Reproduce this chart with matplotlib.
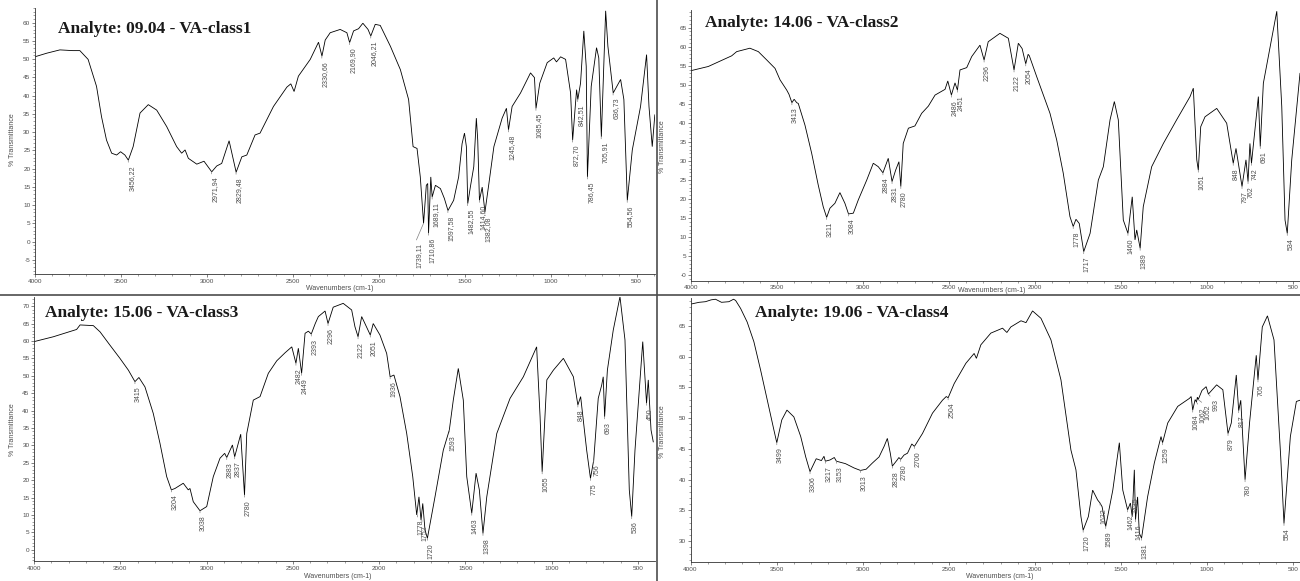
import numpy as np
import matplotlib
matplotlib.use("Agg")
import matplotlib.pyplot as plt
from matplotlib.lines import Line2D
from matplotlib.ticker import MultipleLocator, FuncFormatter

# ---------------- data ----------------
titles = ["Analyte: 09.04 - VA-class1", "Analyte: 14.06 - VA-class2",
          "Analyte: 15.06 - VA-class3", "Analyte: 19.06 - VA-class4"]

wn1 = [4000, 3930, 3854, 3780, 3738, 3690, 3641, 3612, 3583, 3553, 3524, 3501, 3476, 3456, 3428,
       3388, 3340, 3291, 3233, 3175, 3146, 3126, 3107, 3058, 3016, 2971, 2942, 2913, 2870, 2849,
       2829, 2796, 2767, 2719, 2690, 2612, 2534, 2511, 2492, 2467, 2398, 2350, 2330, 2311, 2282,
       2224, 2185, 2169, 2146, 2117, 2092, 2062, 2046, 2020, 1991, 1932, 1874, 1826, 1800, 1777,
       1758, 1739, 1723, 1715, 1710, 1697, 1689, 1670, 1641, 1618, 1597, 1564, 1535, 1515, 1501,
       1490, 1482, 1467, 1447, 1432, 1424, 1414, 1398, 1382, 1359, 1330, 1282, 1257, 1245, 1224,
       1175, 1117, 1094, 1085, 1063, 1020, 982, 966, 942, 913, 884, 872, 849, 842, 826,
       807, 793, 786, 764, 733, 720, 705, 680, 667, 636, 593, 574, 554, 525, 477,
       442, 428, 409, 394]
t1 = [50.6, 51.6, 52.5, 52.3, 52.3, 49.9, 42.5, 34.2, 27.8, 24.2, 23.7, 24.6, 23.7, 22.3, 26,
      35.2, 37.5, 36, 31.5, 26, 24.2, 25.1, 22.8, 21.2, 22, 19.1, 20.7, 21.4, 27.6, 23.2,
      19, 23.2, 23.7, 29.2, 29.7, 37, 42.3, 43.2, 41.1, 45.3, 49.9, 54.6, 50.8, 55.2, 57.2,
      58.1, 57.2, 54.5, 57.7, 58.3, 59.8, 58.1, 56.3, 59.5, 59.2, 53.5, 47.1, 38.9, 26, 25.5,
      17.7, 5, 15.4, 15.9, 2.3, 17.7, 12.2, 15.4, 14.5, 11.8, 8.5, 11.3, 17.7, 26.8, 29.7,
      26, 10.4, 14.9, 20.5, 33.8, 27.8, 11.3, 14.9, 8.1, 15.9, 26, 33.8, 36.5, 30.6, 37,
      40.7, 46.2, 44.9, 36.5, 43.4, 49, 50.3, 49.2, 50.6, 49.9, 40.7, 27.8, 41.6, 38.9, 43.4,
      57.7, 48, 17.7, 42.5, 53.1, 50.3, 28.7, 63.2, 53.5, 40.7, 44.4, 38.9, 11.3, 25.1, 37,
      51.2, 37, 26, 34.7]
peaks1 = ["3456,22", "2971,94", "2829,48", "2330,66", "2169,90", "2046,21", "1739,11",
          "1710,86", "1689,11", "1597,58", "1482,55", "1414,60", "1382,08", "1245,48",
          "1085,45", "872,70", "842,51", "786,45", "705,91", "636,73", "554,56"]

wn2 = [4000, 3899, 3763, 3734, 3657, 3608, 3559, 3511, 3482, 3443, 3430, 3413, 3400, 3385, 3376,
       3337, 3298, 3260, 3231, 3211, 3192, 3163, 3134, 3105, 3084, 3056, 3027, 2978, 2940, 2911,
       2884, 2853, 2831, 2810, 2791, 2780, 2766, 2736, 2698, 2659, 2620, 2581, 2523, 2507, 2486,
       2465, 2451, 2436, 2397, 2368, 2320, 2296, 2272, 2204, 2155, 2122, 2097, 2075, 2054, 2040,
       2033, 1990, 1913, 1874, 1836, 1797, 1778, 1762, 1743, 1717, 1680, 1632, 1603, 1564, 1539,
       1516, 1487, 1460, 1435, 1419, 1409, 1389, 1371, 1322, 1254, 1177, 1099, 1080, 1060, 1051,
       1037, 1012, 944, 886, 848, 832, 797, 774, 762, 751, 742, 702, 691, 673, 595,
       566, 547, 534, 508, 460]
t2 = [53.7, 54.8, 57.6, 58.7, 59.6, 58.7, 56.5, 54.3, 51.3, 48.6, 47.5, 45.3, 46.2, 45.3, 45.1,
      39.4, 32, 23.7, 18, 15.2, 17.6, 18.9, 21.7, 18.9, 16.1, 16.3, 19.8, 25, 29.4, 28.5,
      26.9, 30.7, 24.6, 27.6, 29.8, 23.3, 34.6, 38.6, 39.2, 42.5, 44.4, 47.3, 48.8, 51, 47.3,
      50.5, 48.6, 53.9, 54.5, 57.4, 60.4, 56.5, 61.3, 63.5, 62.2, 53.9, 60.9, 59.5, 55.5, 58,
      57.6, 52.1, 42.5, 35.5, 26.8, 15.4, 12.8, 14.7, 13.6, 6.2, 11, 25, 28.5, 40.8, 45.6,
      40.8, 14.5, 11, 20.6, 9.3, 11.9, 7.1, 18, 28.5, 34.6, 40.8, 46.9, 49.1, 30.3, 27.6,
      39, 41.6, 43.8, 39.9, 29.4, 33.3, 23.3, 30.3, 24.6, 34.6, 29.4, 46.9, 33.8, 50.4, 69.3,
      44.3, 14.5, 11, 30.3, 53]
peaks2 = ["3413", "3211", "3084", "2884", "2831", "2780", "2486", "2451", "2296", "2122",
          "2054", "1778", "1717", "1460", "1389", "1051", "848", "797", "762", "742", "691", "534"]

wn3 = [4000, 3888, 3753, 3733, 3656, 3617, 3560, 3502, 3453, 3415, 3392, 3357, 3309, 3270, 3231,
       3204, 3183, 3135, 3106, 3096, 3077, 3038, 2999, 2961, 2922, 2895, 2883, 2850, 2837, 2802,
       2780, 2767, 2729, 2690, 2642, 2593, 2545, 2506, 2482, 2468, 2449, 2429, 2410, 2393, 2370,
       2352, 2313, 2296, 2266, 2208, 2159, 2140, 2122, 2101, 2082, 2051, 2034, 1995, 1956, 1936,
       1914, 1879, 1840, 1805, 1782, 1769, 1757, 1747, 1734, 1720, 1676, 1628, 1593, 1570, 1541,
       1512, 1492, 1463, 1438, 1419, 1398, 1376, 1318, 1241, 1164, 1087, 1067, 1055, 1028, 990,
       932, 874, 848, 832, 797, 775, 756, 730, 710, 701, 693, 677, 643, 604, 575,
       550, 536, 517, 472, 450, 440, 424, 411]
t3 = [59.8, 61.2, 63.3, 64.6, 64.4, 62.6, 58.8, 55, 51.6, 48.3, 49.5, 46.8, 39.2, 30.6, 21,
      17.2, 17.6, 19.1, 17.2, 17.6, 13.8, 11.2, 12.4, 21, 26.3, 27.7, 26.5, 30.1, 26.7, 33.2,
      15.7, 33.4, 43, 44, 50.7, 54.3, 56.6, 58.3, 53.6, 57.9, 50.7, 62.2, 62.8, 62.0, 65,
      67, 68.6, 65, 69.7, 70.8, 68.9, 64.1, 61.2, 67, 65, 61.7, 65, 61.7, 56.4, 49.7,
      50.2, 44, 33.4, 21, 10, 15.2, 8.5, 13.3, 5.7, 3.3, 15.2, 28.6, 34.4, 43, 52.1,
      43, 21, 10.5, 22, 17.2, 4.7, 15.2, 33.4, 43.5, 49.7, 58.3, 38.2, 22.4, 48.8, 51.6,
      55, 49.7, 41.6, 44, 28.6, 20.5, 25.8, 43.5, 47.3, 49.7, 38.2, 51.6, 63.1, 72.7, 60.3,
      17.2, 9.5, 28.6, 59.8, 42.1, 48.8, 34.4, 31]
peaks3 = ["3415", "3204", "3038", "2883", "2837", "2780", "2482", "2449", "2393", "2296",
          "2122", "2051", "1936", "1778", "1752", "1720", "1593", "1463", "1398", "1055",
          "848", "775", "756", "693", "536", "450"]

wn4 = [4000, 3950, 3913, 3880, 3855, 3820, 3777, 3750, 3738, 3709, 3671, 3632, 3593, 3554, 3516,
       3499, 3470, 3440, 3400, 3360, 3331, 3306, 3270, 3240, 3225, 3217, 3190, 3165, 3153, 3100,
       3050, 3013, 2980, 2944, 2905, 2876, 2857, 2840, 2828, 2800, 2790, 2780, 2760, 2740, 2715,
       2700, 2653, 2595, 2537, 2515, 2504, 2469, 2401, 2353, 2340, 2314, 2256, 2188, 2163, 2140,
       2081, 2052, 2014, 1965, 1907, 1849, 1791, 1762, 1733, 1720, 1690, 1665, 1636, 1622, 1610,
       1589, 1548, 1510, 1490, 1462, 1446, 1435, 1423, 1416, 1404, 1394, 1381, 1346, 1307, 1268,
       1259, 1229, 1171, 1103, 1093, 1084, 1070, 1062, 1057, 1052, 1030, 1006, 993, 945, 909,
       879, 860, 831, 817, 805, 780, 754, 715, 705, 680, 650, 612, 573, 554, 517,
       482, 461]
t4 = [68.5, 68.8, 68.9, 69.2, 69.3, 68.8, 68.9, 69.3, 69.1, 67.8, 65.6, 62.4, 57.8, 52.9, 48.1,
      46, 49.7, 51.3, 50.2, 47, 43.7, 41.3, 43.4, 43.1, 43.8, 43.0, 43.2, 43.6, 43.0, 42.6,
      41.9, 41.5, 41.7, 42.7, 43.7, 45.4, 46.7, 44.3, 42.2, 43.2, 43.6, 43.3, 44, 44.3, 45.8,
      45.4, 47.5, 50.8, 52.9, 53.5, 53.3, 55.6, 58.9, 60.5, 59.7, 61.9, 63.8, 64.6, 63.9, 64.8,
      65.8, 65.5, 67.4, 66.2, 62.7, 56.2, 44.8, 41.6, 34, 31.8, 34, 38.3, 36.7, 36.2, 35.6,
      32.4, 38.3, 46, 38.3, 35.1, 36.2, 34, 41.6, 33.5, 37.2, 31.3, 30.5, 37.2, 42.7, 47,
      46, 49.2, 51.9, 53.2, 53.5, 51.3, 53, 52.6, 53.4, 53, 54.5, 55.1, 53.9, 55.4, 54.6,
      47.5, 49.2, 57, 51.2, 52.9, 40, 49.2, 60.2, 56.2, 64.8, 66.6, 62.7, 43.7, 32.9, 47,
      52.7, 52.9]
peaks4 = ["3499", "3306", "3217", "3153", "3013", "2828", "2780", "2700", "2504", "1720",
          "1622", "1589", "1462", "1435", "1416", "1381", "1259", "1084", "1062", "1052",
          "993", "879", "817", "780", "705", "554"]

# ---------------- layout ----------------
W, H = 1300, 581
fig = plt.figure(figsize=(W / 100, H / 100), dpi=100)
SANS = "Liberation Sans"

panels = [
    dict(wn=wn1, t=t1, peaks=peaks1, title=titles[0], box=(34.8, 655, 7.9, 274.4),
         xlim=(4000, 393), ylim=(-9, 64), yticks=np.arange(-5, 61, 5), title_xy=(58, 33.3),
         ylab_xy=(13, 140), xlab_xy=(340, 288.5), zero_lbl="0"),
    dict(wn=wn2, t=t2, peaks=peaks2, title=titles[1], box=(690.9, 1300, 10.1, 281.0),
         xlim=(4000, 460), ylim=(-1.5, 69.6), yticks=np.arange(0, 66, 5), title_xy=(705, 26.7),
         ylab_xy=(662, 147), xlab_xy=(992, 290.5), zero_lbl="-0"),
    dict(wn=wn3, t=t3, peaks=peaks3, title=titles[2], box=(34.0, 655, 297.1, 561.2),
         xlim=(4000, 401), ylim=(-3.3, 72.6), yticks=np.arange(0, 71, 5), title_xy=(45, 317.3),
         ylab_xy=(13, 430), xlab_xy=(338, 576), zero_lbl="0"),
    dict(wn=wn4, t=t4, peaks=peaks4, title=titles[3], box=(690.5, 1300, 298.0, 562.2),
         xlim=(4000, 461), ylim=(26.6, 69.5), yticks=np.arange(30, 66, 5), title_xy=(755, 316.7),
         ylab_xy=(662, 432), xlab_xy=(1000, 576), zero_lbl="0"),
]

# label offsets (points) and leader anchor for crowded labels
special = {"1739,11": ((-6, -14), (0, 1)),
           "1435": ((0.5, 14), (0, 0)),
           "1062": ((2.0, -3.5), (0, 1)),
           "1052": ((4.5, -3.5), (0, 1)),
           "993": ((3.0, -3.5), (0, 1))}

for p in panels:
    l, r, tp, bt = p["box"]
    ax = fig.add_axes([l / W, 1 - bt / H, (r - l) / W, (bt - tp) / H])
    ax.patch.set_alpha(0)
    wn = np.asarray(p["wn"], float)
    t = np.asarray(p["t"], float)
    ax.plot(wn, t, color="black", lw=0.6, solid_joinstyle="miter")
    ax.set_xlim(*p["xlim"])
    ax.set_ylim(*p["ylim"])
    for s in ("top", "right"):
        ax.spines[s].set_visible(False)
    for s in ("left", "bottom"):
        ax.spines[s].set_linewidth(0.6)
        ax.spines[s].set_color("0.2")
    ax.xaxis.set_major_locator(MultipleLocator(500))
    ax.xaxis.set_minor_locator(MultipleLocator(100))
    ax.set_yticks(p["yticks"])
    ax.yaxis.set_minor_locator(MultipleLocator(1))
    zl = p["zero_lbl"]
    ax.yaxis.set_major_formatter(FuncFormatter(lambda v, pos, zl=zl: zl if abs(v) < 1e-9 else "%d" % v))
    ax.xaxis.set_major_formatter(FuncFormatter(lambda v, pos: "%d" % v))
    ax.tick_params(which="major", length=2, width=0.5, pad=1.2, labelsize=4.6,
                   colors="0.3", labelcolor="0.3")
    ax.tick_params(which="minor", length=1.1, width=0.4, colors="0.35")
    for lab in ax.get_xticklabels() + ax.get_yticklabels():
        lab.set_family(SANS)

    # peak labels
    for lab in p["peaks"]:
        v = float(lab.replace(",", "."))
        i = int(np.argmin(np.abs(wn - v)))
        y = t[i]
        off, rel = special.get(lab, ((0, -3.5), (0, 1)))
        ax.annotate(lab, xy=(v, y), xytext=off, textcoords="offset points",
                    rotation=90, ha="left", va="top", fontsize=5, color="0.3",
                    family=SANS, annotation_clip=False,
                    arrowprops=dict(arrowstyle="-", color="0.5", lw=0.5,
                                    shrinkA=0, shrinkB=0, relpos=rel))

    tx, ty = p["title_xy"]
    fig.text(tx / W, 1 - ty / H, p["title"], family="Liberation Serif", weight="bold",
             fontsize=12.5, ha="left", va="baseline", color="0.1")
    yx, yy = p["ylab_xy"]
    fig.text(yx / W, 1 - yy / H, "% Transmittance", rotation=90, ha="center", va="center",
             fontsize=5, color="0.3", family=SANS)
    xx, xy = p["xlab_xy"]
    fig.text(xx / W, 1 - xy / H, "Wavenumbers (cm-1)", ha="center", va="center",
             fontsize=5, color="0.3", family=SANS)

# separators between the four panels
fig.add_artist(Line2D([656.5 / W, 656.5 / W], [0, 1], color="0.3", lw=1.2))
fig.add_artist(Line2D([0, 1], [1 - 294.5 / H, 1 - 294.5 / H], color="0.3", lw=1.2))

fig.savefig("out.png", dpi=100)
